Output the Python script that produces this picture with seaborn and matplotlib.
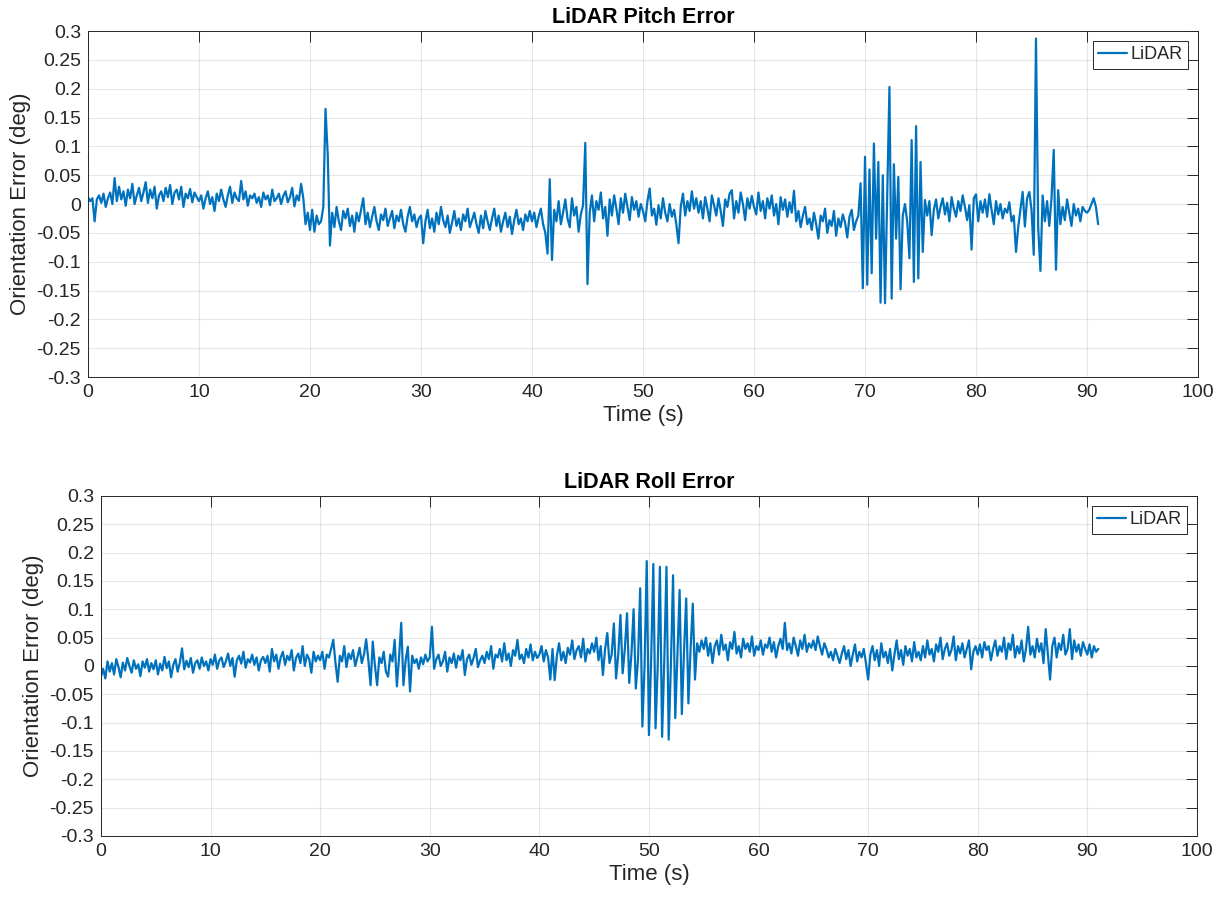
import numpy as np
import pandas as pd
import matplotlib
matplotlib.use("Agg")
import matplotlib.pyplot as plt
import seaborn as sns

# Sampling period of the logged orientation errors (s)
SAMPLE_PERIOD = 0.2

# LiDAR pitch error, in thousandths of a degree, one row per 5 s
pitch_mdeg = [
    12, 5, 10, -30, 8, 15, 2, 18, -5, 10, 20, 0, 45, 5, 30, 8, 22, -3, 25, 10, 35, 0, 15, 28, 5,
    20, 38, 2, 25, 10, 30, -8, 15, 22, 5, 28, 12, 33, 0, 20, 25, 8, 30, -5, 18, 10, 26, 3, 20, 12,
    5, 15, -8, 10, 22, 0, 12, -12, 18, 5, 25, 8, -5, 15, 30, 2, 20, 10, 5, 40, 8, 22, -3, 15, 10,
    18, 2, 12, -5, 20, 8, 15, -2, 25, 5, 10, 18, 0, 14, 22, 3, 12, 28, -4, 15, 6, 35, 10, -35, -15,
    -45, -10, -48, -20, -35, -30, -5, 165, 85, -72, -15, -40, -5, -30, -45, -12, -25, -8, -38, -20, -48, -15, -30, -10, 10,
    -35, -15, -40, -22, -5, -30, -45, -18, -28, -8, -38, -25, -12, -42, -20, -30, -10, -35, -48, -22, -5, -30, -18, -40, -25,
    -20, -68, -30, -10, -42, -25, -48, -15, -35, -5, -28, -40, -20, -50, -32, -12, -38, -25, -45, -18, -30, -8, -40, -28, -15,
    -35, -50, -20, -42, -12, -30, -45, -25, -8, -38, -20, -48, -30, -15, -40, -22, -52, -28, -10, -35, -25, -45, -18, -30, -12,
    -30, -15, -40, -22, -8, -35, -50, -86, 43, -97, -10, -30, 5, -35, -15, 8, -25, -40, 10, -20, -5, -48, -18, -2, 106,
    -139, -15, 15, -30, 5, -10, 20, -25, -5, -55, 8, -20, 15, -8, -35, 10, -15, 18, -5, -28, 12, -10, 5, -22, 0,
    -12, -30, 5, 27, -20, -8, -36, -2, -25, 10, -15, -30, 0, -22, -10, -35, -68, -5, 18, -20, 5, -12, 22, -8, 10,
    -15, 5, -25, 12, -8, -30, 15, -2, -20, 10, -12, -38, 8, -5, 18, 24, -25, 5, -15, 20, 0, -28, 10, -8, 14,
    -5, -18, 20, -12, 5, -25, 10, -8, 15, -20, 0, -35, 12, -10, 8, -22, 3, -15, 23, -30, -12, -40, -20, -5, -35,
    -25, -45, -15, -35, -60, -20, -30, -8, -50, -28, -38, -12, -55, -25, -40, -18, -32, -58, -22, -10, -45, -30, -20, 36, -146,
    82, -140, 60, -120, 105, -60, 73, -171, 50, -172, 20, 203, -164, 69, -60, 47, -148, -20, 0, -30, -94, 111, -135, 135, -129,
    73, -83, 7, -20, 5, -54, -10, 8, -25, -5, 10, -18, 2, -30, 12, -8, -22, 5, -12, 15, -5, -28, -2, -79, 10,
    17, -30, 5, -15, 8, -22, 17, -10, -35, 5, -18, 0, -25, -8, -15, 3, -30, -20, -83, -40, -10, 21, -39, 10, 21,
    -10, -88, 287, -40, -116, 15, -30, 5, -38, 10, 94, -114, 24, -35, -5, -28, 8, -15, -38, 0, -20, -8, -30, -5, -12,
    -15, -10, 0, 10, -5, -35,
]

# LiDAR roll error, in thousandths of a degree, one row per 5 s
roll_mdeg = [
    -19, -5, -22, 8, -10, 5, -15, 12, -2, -20, 6, -8, 14, 0, -12, 10, -5, 3, -18, 8, -3, 12, -10, 5, -6,
    10, -15, 4, -8, 16, -4, 8, -20, 2, 12, -10, 6, 31, -6, 9, -2, 14, -12, 5, 10, -5, 15, 0, 8, -8,
    12, 2, 20, -5, 10, 15, -2, 8, 22, 0, 14, -19, 10, 18, 4, 25, -3, 12, 6, 20, 2, 15, -8, 10, 16,
    5, 18, -10, 30, 8, 20, -5, 15, 25, 2, 18, 10, 28, -8, 14, 22, 5, 35, 0, 20, 12, -12, 25, 8, 18,
    10, 25, -5, 20, 15, 30, 46, 5, -28, 18, 8, 35, -2, 22, 12, 28, 0, 15, 32, 5, 20, 47, 10, -34, 43,
    0, -34, 15, 5, 25, -10, -19, 20, 8, 46, -36, 15, 76, -34, 10, 34, -45, 18, 5, 12, -5, 15, 3, 20, 8,
    15, 69, -5, 12, 20, 0, 8, 25, -10, 15, 5, 22, -3, 18, 10, 28, -16, 12, 20, 2, 14, 30, -2, 10, 18,
    5, 25, 12, 35, -5, 20, 15, 30, 8, 40, 10, 22, 0, 28, 18, 46, 12, 20, 5, 30, 15, 38, 10, 25, 14,
    20, 35, 8, 28, 15, -24, 30, -25, 18, 40, 10, 25, 5, 32, 20, 45, 12, 28, 35, 15, 48, 8, 30, 22, 40,
    25, 50, 10, 35, -16, 30, 58, 5, 20, 75, -22, 20, 90, -13, 30, 93, -30, 20, 100, -40, 10, 137, -107, 0, 185,
    -122, 10, 180, -110, 0, 175, -125, 10, 175, -130, 0, 160, -92, 20, 134, -85, 25, 119, -66, 30, 110, -24, 40, 25, 45,
    30, 50, 18, 40, 5, 35, 45, 20, 55, 28, 38, 10, 42, 30, 60, 22, 35, 15, 48, 30, 40, 25, 52, 18, 35,
    28, 45, 20, 38, 32, 50, 25, 42, 15, 35, 48, 30, 76, 28, 40, 22, 50, 35, 18, 45, 30, 55, 25, 40, 32,
    45, 28, 52, 35, 20, 40, 30, 15, 25, 10, 30, 18, 5, 22, 35, 12, 28, 0, 20, 38, 8, 25, 15, 30, 5,
    -24, 20, 35, 10, 28, 0, 40, 15, 25, 5, 30, -8, 20, 45, 12, 28, 2, 35, 18, 30, 8, 42, 15, 25, 10,
    35, 15, 45, 20, 30, 8, 38, 25, 50, 12, 30, 40, 18, 28, 52, 10, 35, 22, 40, 15, 30, 45, -6, 25, 35,
    20, 38, 15, 42, 28, 35, 10, 30, 45, 18, 35, 25, 50, 12, 40, 28, 55, 15, 35, 22, 45, 8, 30, 69, 20,
    35, 15, 48, 25, 40, 5, 65, 20, -24, 35, 50, 15, 40, 28, 55, 20, 30, 65, 12, 45, 25, 38, 18, 42, 30,
    20, 38, 15, 35, 25, 30,
]

x_ticks = [0, 10, 20, 30, 40, 50, 60, 70, 80, 90, 100]
y_ticks = [-0.3, -0.25, -0.2, -0.15, -0.1, -0.05, 0, 0.05, 0.1, 0.15, 0.2, 0.25, 0.3]
y_tick_labels = ["-0.3", "-0.25", "-0.2", "-0.15", "-0.1", "-0.05", "0",
                 "0.05", "0.1", "0.15", "0.2", "0.25", "0.3"]

titles = ["LiDAR Pitch Error", "LiDAR Roll Error"]
series_name = "LiDAR"
x_label = "Time (s)"
y_label = "Orientation Error (deg)"

LINE_COLOR = "#0072BD"
AXIS_COLOR = "#262626"


def to_frame(values_mdeg):
    err = np.asarray(values_mdeg, dtype=float) / 1000.0
    time = np.arange(len(err)) * SAMPLE_PERIOD
    return pd.DataFrame({"time": time, "error": err})


sns.set_theme(style="white")
plt.rcParams["font.family"] = ["Liberation Sans", "DejaVu Sans"]

fig = plt.figure(figsize=(12.25, 9.02), dpi=100)
ax_top = fig.add_axes([0.0718, 0.582, 0.9062, 0.3836])
ax_bot = fig.add_axes([0.0824, 0.0732, 0.8947, 0.3770])

for ax, values, title in zip([ax_top, ax_bot], [pitch_mdeg, roll_mdeg], titles):
    df = to_frame(values)
    sns.lineplot(data=df, x="time", y="error", ax=ax, color=LINE_COLOR,
                 linewidth=1.6, estimator=None, label=series_name)

    ax.set_xlim(0, 100)
    ax.set_ylim(-0.3, 0.3)
    ax.set_xticks(x_ticks)
    ax.set_xticklabels([str(v) for v in x_ticks])
    ax.set_yticks(y_ticks)
    ax.set_yticklabels(y_tick_labels)

    ax.grid(True, color=AXIS_COLOR, alpha=0.11, linewidth=0.8)
    ax.set_axisbelow(True)
    ax.tick_params(direction="in", length=8, width=0.7, top=True, right=True,
                   color=AXIS_COLOR, labelsize=14, labelcolor=AXIS_COLOR, pad=5)
    for spine in ax.spines.values():
        spine.set_color(AXIS_COLOR)
        spine.set_linewidth(0.7)

    ax.set_xlabel(x_label, fontsize=16, color=AXIS_COLOR, labelpad=3)
    ax.set_ylabel(y_label, fontsize=16, color=AXIS_COLOR, labelpad=4)
    ax.set_title(title, fontsize=15.5, fontweight="bold", color="black", pad=6)

    leg = ax.legend(loc="upper right", fontsize=13, frameon=True, fancybox=False,
                    framealpha=1.0, edgecolor=AXIS_COLOR, borderpad=0.3,
                    handlelength=1.6, handletextpad=0.2, borderaxespad=0.55)
    leg.get_frame().set_linewidth(0.7)
    for txt in leg.get_texts():
        txt.set_color(AXIS_COLOR)

fig.savefig("out.png", dpi=100)
